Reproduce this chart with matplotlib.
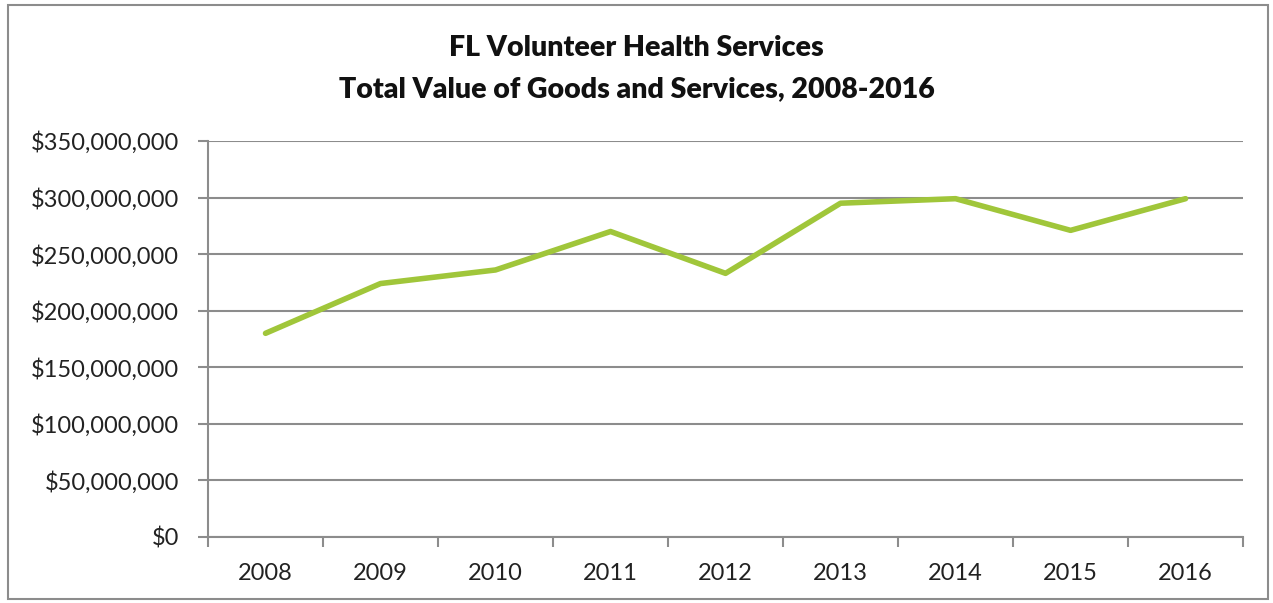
import matplotlib.pyplot as plt
from matplotlib.ticker import FuncFormatter, FixedLocator
from matplotlib.patches import Rectangle

# Data
years = ['2008', '2009', '2010', '2011', '2012', '2013', '2014', '2015', '2016']
values = [180e6, 224e6, 236e6, 270e6, 233e6, 295e6, 299e6, 271e6, 299e6]
yticks = [0, 50e6, 100e6, 150e6, 200e6, 250e6, 300e6, 350e6]

plt.rcParams['font.family'] = ['Lato', 'DejaVu Sans']

fig = plt.figure(figsize=(12.73, 6.03), dpi=100)
ax = fig.add_axes([0.1634, 0.1095, 0.8131, 0.6567])

x = list(range(len(years)))
ax.plot(x, values, color='#A0C63A', lw=4, solid_capstyle='round', zorder=3)

ax.set_xlim(-0.5, len(years) - 0.5)
ax.set_ylim(0, 350e6)
ax.set_yticks(yticks)
ax.yaxis.set_major_formatter(FuncFormatter(lambda v, p: '${:,.0f}'.format(v)))
ax.grid(axis='y', color='#8c8c8c', lw=1.5)

# category labels between boundary ticks
ax.set_xticks(x)
ax.set_xticklabels(years)
ax.xaxis.set_minor_locator(FixedLocator([i - 0.5 for i in range(len(years) + 1)]))
ax.tick_params(axis='x', which='major', length=0, pad=19, labelsize=17, labelcolor='#222222')
ax.tick_params(axis='x', which='minor', length=7, width=1.5, color='#8c8c8c')
ax.tick_params(axis='y', length=7, width=1.5, color='#8c8c8c', pad=14,
               labelsize=17, labelcolor='#222222')

for s in ['top', 'right']:
    ax.spines[s].set_visible(False)
for s in ['left', 'bottom']:
    ax.spines[s].set_color('#8c8c8c')
    ax.spines[s].set_linewidth(1.5)

fig.text(0.5, 0.92, 'FL Volunteer Health Services', ha='center', va='center',
         fontsize=20.5, fontweight='heavy', color='#111111')
fig.text(0.5, 0.853, 'Total Value of Goods and Services, 2008-2016', ha='center',
         va='center', fontsize=20.5, fontweight='heavy', color='#111111')

# outer chart border
fig.patches.append(Rectangle((0.006, 0.006), 0.99, 0.985, transform=fig.transFigure,
                             fill=False, edgecolor='#8c8c8c', lw=1.5))

fig.savefig('out.png', dpi=100)
